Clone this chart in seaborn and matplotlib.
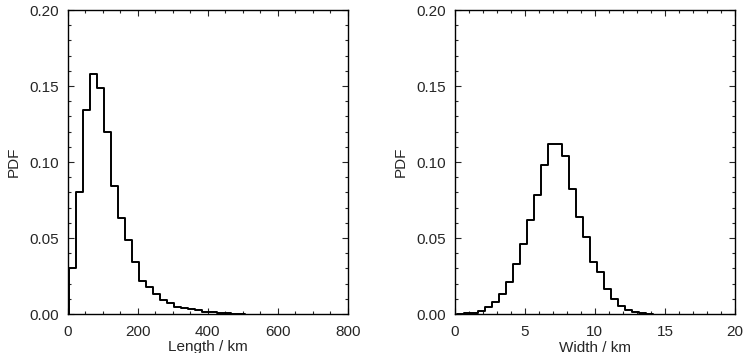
import numpy as np
import pandas as pd
import matplotlib
matplotlib.use("Agg")
import matplotlib.pyplot as plt
from matplotlib.ticker import MultipleLocator, FormatStrFormatter
import seaborn as sns

# Length distribution (bin centres in km, 20 km bins) and PDF values
length_centers = [-5, 15, 35, 55, 75, 95, 115, 135, 155, 175, 195, 215, 235, 255,
                  275, 295, 315, 335, 355, 375, 395, 415, 435, 455, 475, 495]
length_pdf = [0.0, 0.030, 0.080, 0.134, 0.158, 0.149, 0.120, 0.084, 0.063, 0.049,
              0.034, 0.022, 0.018, 0.013, 0.009, 0.007, 0.0045, 0.0042, 0.003,
              0.0028, 0.0015, 0.001, 0.0007, 0.0005, 0.0003, 0.0002]

# Width distribution (bin centres in km, 0.5 km bins) and PDF values
width_centers = [0.4, 0.9, 1.4, 1.9, 2.4, 2.9, 3.4, 3.9, 4.4, 4.9, 5.4, 5.9, 6.4,
                 6.9, 7.4, 7.9, 8.4, 8.9, 9.4, 9.9, 10.4, 10.9, 11.4, 11.9, 12.4,
                 12.9, 13.4, 13.9]
width_pdf = [0.0, 0.0005, 0.0008, 0.0022, 0.0048, 0.0076, 0.013, 0.0213, 0.033,
             0.046, 0.062, 0.078, 0.098, 0.112, 0.112, 0.104, 0.082, 0.0636,
             0.0505, 0.0344, 0.0276, 0.0163, 0.0101, 0.0054, 0.0024, 0.0012,
             0.0005, 0.0002]

sns.set_style("ticks")
plt.rcParams['font.family'] = ['Liberation Sans', 'DejaVu Sans']
plt.rcParams['font.size'] = 11


def edges_from(centers):
    c = np.asarray(centers, dtype=float)
    w = c[1] - c[0]
    return np.append(c - w / 2, c[-1] + w / 2).tolist()


def plot_pdf(ax, centers, pdf, xlabel, xmax, xmajor, xminor):
    df = pd.DataFrame({'x': centers, 'pdf': pdf})
    sns.histplot(data=df, x='x', weights='pdf', bins=edges_from(centers),
                 element='step', fill=False, color='black', linewidth=1.4, ax=ax)
    ax.set_xlim(0, xmax)
    ax.set_ylim(0, 0.2)
    ax.xaxis.set_major_locator(MultipleLocator(xmajor))
    ax.xaxis.set_minor_locator(MultipleLocator(xminor))
    ax.yaxis.set_major_locator(MultipleLocator(0.05))
    ax.yaxis.set_minor_locator(MultipleLocator(0.01))
    ax.yaxis.set_major_formatter(FormatStrFormatter('%.2f'))
    ax.tick_params(which='both', direction='in', top=True, right=True, width=0.8)
    ax.tick_params(which='major', length=4.5)
    ax.tick_params(which='minor', length=2.4)
    ax.tick_params(axis='y', pad=6)
    ax.tick_params(axis='x', pad=8)
    for s in ax.spines.values():
        s.set_visible(True)
        s.set_linewidth(1.0)
        s.set_color('black')
    ax.set_xlabel(xlabel, labelpad=1)
    ax.set_ylabel('PDF', labelpad=6)


fig = plt.figure(figsize=(7.46, 3.53), dpi=100)
ax1 = fig.add_axes([67.5 / 746, 1 - 314 / 353, 280.5 / 746, 304 / 353])
ax2 = fig.add_axes([454.5 / 746, 1 - 314 / 353, 280.5 / 746, 304 / 353])

plot_pdf(ax1, length_centers, length_pdf, 'Length / km', 800, 200, 50)
plot_pdf(ax2, width_centers, width_pdf, 'Width / km', 20, 5, 1)

fig.savefig('out.png', dpi=100)
